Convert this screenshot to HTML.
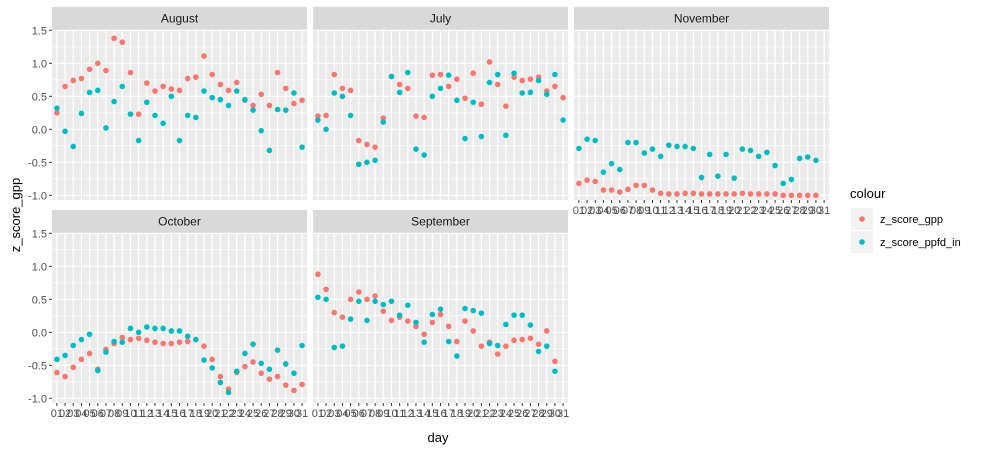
<!DOCTYPE html>
<html><head><meta charset="utf-8"><style>
body{margin:0;background:#fff;}
svg{display:block;font-family:"Liberation Sans",Arial,sans-serif;}
</style></head><body>
<svg id="c" width="983" height="450"></svg>
<script>
const months = ["August","July","November","October","September"];
const gppAug = [0.25,0.65,0.74,0.77,0.91,1.0,0.89,1.38,1.32,0.86,0.23,0.70,0.58,0.65,0.61,0.59,0.77,0.79,1.11,0.83,0.68,0.59,0.71,0.44,0.36,0.53,0.36,0.86,0.62,0.39,0.44];
const ppfdAug = [0.32,-0.03,-0.26,0.24,0.56,0.59,0.02,0.42,0.65,0.23,-0.17,0.41,0.21,0.09,0.50,-0.17,0.21,0.18,0.58,0.48,0.45,0.36,0.58,0.45,0.29,-0.02,-0.32,0.30,0.29,0.55,-0.27];
const gppJul = [0.20,0.21,0.83,0.62,0.59,-0.17,-0.23,-0.27,0.17,0.80,0.68,0.62,0.20,0.18,0.82,0.83,0.65,0.76,0.47,0.85,0.38,1.02,0.68,0.35,0.79,0.74,0.76,0.79,0.58,0.65,0.48];
const ppfdJul = [0.14,0.0,0.55,0.50,0.21,-0.53,-0.50,-0.47,0.11,0.80,0.56,0.86,-0.30,-0.39,0.50,0.62,0.82,0.44,-0.14,0.41,-0.11,0.71,0.83,-0.09,0.85,0.55,0.56,0.74,0.53,0.83,0.14];
const gppNov = [-0.82,-0.77,-0.79,-0.92,-0.92,-0.95,-0.91,-0.85,-0.85,-0.92,-0.97,-0.98,-0.98,-0.97,-0.97,-0.98,-0.98,-0.98,-0.98,-0.98,-0.97,-0.98,-0.98,-0.98,-0.98,-1.0,-1.0,-1.0,-1.0,-1.0];
const ppfdNov = [-0.29,-0.15,-0.17,-0.65,-0.52,-0.61,-0.20,-0.20,-0.36,-0.30,-0.41,-0.24,-0.26,-0.26,-0.29,-0.73,-0.38,-0.71,-0.38,-0.74,-0.30,-0.32,-0.41,-0.35,-0.55,-0.82,-0.76,-0.44,-0.42,-0.47];
const gppOct = [-0.61,-0.67,-0.53,-0.41,-0.32,-0.56,-0.26,-0.17,-0.08,-0.11,-0.09,-0.12,-0.15,-0.17,-0.17,-0.15,-0.14,-0.11,-0.21,-0.41,-0.67,-0.86,-0.61,-0.52,-0.45,-0.62,-0.71,-0.67,-0.80,-0.88,-0.79];
const ppfdOct = [-0.41,-0.35,-0.20,-0.11,-0.03,-0.58,-0.30,-0.14,-0.15,0.06,0.0,0.08,0.06,0.06,0.02,0.02,-0.06,-0.11,-0.42,-0.54,-0.76,-0.91,-0.59,-0.32,-0.18,-0.47,-0.56,-0.27,-0.48,-0.62,-0.20];
const gppSep = [0.88,0.65,0.30,0.23,0.50,0.61,0.50,0.55,0.32,0.18,0.23,0.17,0.09,-0.03,0.15,0.27,0.09,-0.14,0.17,0.02,-0.21,-0.15,-0.33,-0.21,-0.12,-0.11,-0.09,-0.18,0.02,-0.44];
const ppfdSep = [0.53,0.50,-0.23,-0.21,0.20,0.47,0.18,0.47,0.42,0.47,0.26,0.41,0.15,-0.15,0.27,0.35,-0.14,-0.36,0.36,0.33,0.29,-0.17,-0.20,0.12,0.26,0.26,0.11,-0.29,-0.21,-0.59];
const yTicks = [-1.0,-0.5,0.0,0.5,1.0,1.5];
const dayLabels = ["01","02","03","04","05","06","07","08","09","10","11","12","13","14","15","16","17","18","19","20","21","22","23","24","25","26","27","28","29","30","31"];

const gppSeries = [gppAug,gppJul,gppNov,gppOct,gppSep];
const ppfdSeries = [ppfdAug,ppfdJul,ppfdNov,ppfdOct,ppfdSep];
const NS="http://www.w3.org/2000/svg";
const svg=document.getElementById('c');
function mk(tag,attrs,parent){const e=document.createElementNS(NS,tag);for(const k in attrs)e.setAttribute(k,attrs[k]);(parent||svg).appendChild(e);return e;}
const PW=255, PH=170;
const lefts=[52,313,574,52,313];
const tops=[30,30,30,233,233];
const step=PW/(dayLabels.length+0.2);
function xScale(left,i){return left+(i+0.6)*step;}
function yScale(top,v){return top+99.3-v*66;}
const RED="#F8766D", CY="#00BFC4";
months.forEach((m,p)=>{
  const L=lefts[p],T=tops[p];
  const g=mk('g',{});
  
  
  const strip=mk('rect',{x:L,y:T-23,width:PW,height:23,fill:'#d9d9d9'},g);
  
  
  const st=mk('text',{x:L+PW/2,y:T-7.5,'text-anchor':'middle','font-size':'12',fill:'#1a1a1a'},g);
  st.textContent=m;
  
  
  mk('rect',{x:L,y:T,width:PW,height:PH,fill:'#ebebeb'},g);
  for(let k=0;k<yTicks.length-1;k++){const v=(yTicks[k]+yTicks[k+1])/2;mk('line',{x1:L,x2:L+PW,y1:yScale(T,v),y2:yScale(T,v),stroke:'#fff','stroke-width':0.6},g);}
  yTicks.forEach(v=>mk('line',{x1:L,x2:L+PW,y1:yScale(T,v),y2:yScale(T,v),stroke:'#fff','stroke-width':1.2},g));
  dayLabels.forEach((d,i)=>mk('line',{x1:xScale(L,i),x2:xScale(L,i),y1:T,y2:T+PH,stroke:'#fff','stroke-width':1.2},g));
  if(L===52){yTicks.forEach(v=>{
    mk('line',{x1:L-3,x2:L,y1:yScale(T,v),y2:yScale(T,v),stroke:'#333','stroke-width':1},g);
    const t=mk('text',{x:L-5,y:yScale(T,v)+4,'text-anchor':'end','font-size':'11',fill:'#4d4d4d'},g);
    t.textContent=v.toFixed(1);
    
    
  });}
  if(p>=2){dayLabels.forEach((d,i)=>{
    mk('line',{x1:xScale(L,i),x2:xScale(L,i),y1:T+PH,y2:T+PH+3,stroke:'#333','stroke-width':1},g);
    const t=mk('text',{x:xScale(L,i),y:T+PH+14,'text-anchor':'middle','font-size':'11',fill:'#4d4d4d'},g);
    t.textContent=d;
    
    
  });}
  gppSeries[p].forEach((v,i)=>{const c=mk('circle',{cx:xScale(L,i),cy:yScale(T,v),r:2.8,fill:RED},g);
    
    });
  ppfdSeries[p].forEach((v,i)=>{const c=mk('circle',{cx:xScale(L,i),cy:yScale(T,v),r:2.8,fill:CY},g);
    
    });
});
let t=mk('text',{x:438,y:442,'text-anchor':'middle','font-size':'13',fill:'#000'});t.textContent='day';


t=mk('text',{x:0,y:0,'text-anchor':'middle','font-size':'13',fill:'#000',transform:'translate(20,215) rotate(-90)'});t.textContent='z_score_gpp';


const lg=mk('g',{});


t=mk('text',{x:850,y:198,'font-size':'13',fill:'#000'},lg);t.textContent='colour';
[['z_score_gpp',RED,219],['z_score_ppfd_in',CY,242]].forEach(([n,c,y])=>{
  const e=mk('g',{},lg);
  
  
  mk('rect',{x:851,y:y-11,width:22,height:22,fill:'#f2f2f2'},e);
  mk('circle',{cx:862,cy:y,r:2.8,fill:c},e);
  const tt=mk('text',{x:880,y:y+4,'font-size':'11',fill:'#000'},e);tt.textContent=n;
});
</script>
</body></html>
